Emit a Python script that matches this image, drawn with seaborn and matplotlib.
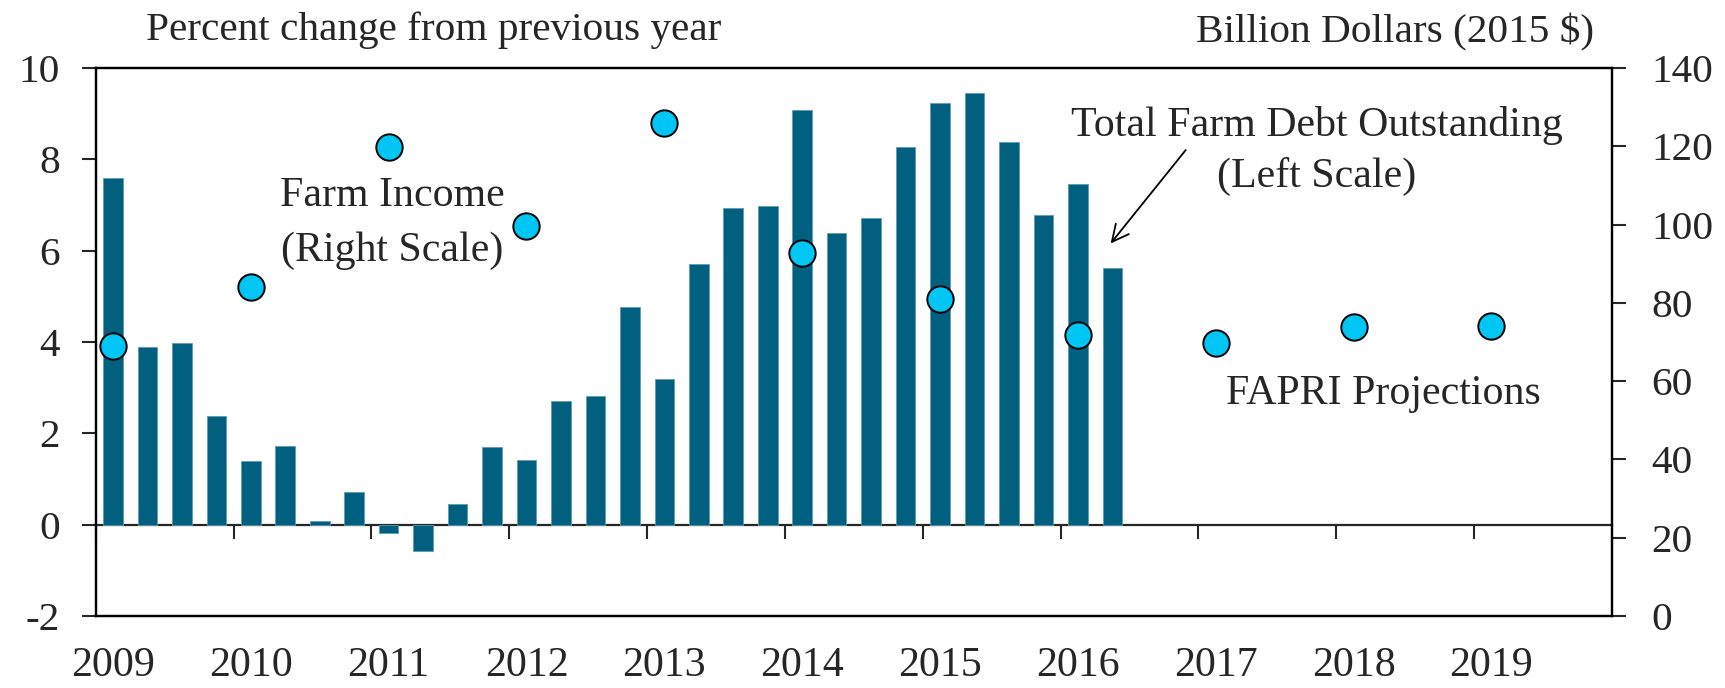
import numpy as np
import pandas as pd
import matplotlib
matplotlib.use("Agg")
import matplotlib.pyplot as plt
import seaborn as sns

# Total farm debt outstanding, % change from previous year (quarterly, left scale)
quarters = pd.period_range("2009Q1", "2016Q2", freq="Q")
debt_change = [7.58, 3.88, 3.98, 2.38, 1.39, 1.72, 0.08, 0.71,
               -0.19, -0.58, 0.46, 1.70, 1.42, 2.71, 2.81, 4.76,
               3.19, 5.71, 6.93, 6.97, 9.09, 6.39, 6.72, 8.28,
               9.23, 9.46, 8.38, 6.78, 7.47, 5.63]

# Farm income, billion 2015 dollars (annual, right scale; 2017-2019 FAPRI projections)
income_years = [2009, 2010, 2011, 2012, 2013, 2014, 2015, 2016, 2017, 2018, 2019]
farm_income = [69.0, 84.0, 119.8, 99.6, 125.9, 92.8, 80.9, 71.8, 69.8, 73.9, 74.1]

left_ticks = [-2, 0, 2, 4, 6, 8, 10]
right_ticks = [0, 20, 40, 60, 80, 100, 120, 140]

BAR_COLOR = "#015f7f"
DOT_COLOR = "#00c6f5"
FS = 29.7

sns.set_theme(style="ticks")
plt.rcParams["font.family"] = ["Liberation Serif", "DejaVu Serif"]
plt.rcParams["axes.unicode_minus"] = False

# quarter centres on a continuous year axis
q_pos = np.array([p.year + (p.quarter - 1) * 0.25 + 0.125 for p in quarters])
inc_pos = np.array(income_years) + 0.125

fig = plt.figure(figsize=(17.25, 6.88), dpi=100)
ax = fig.add_axes([0.0555, 0.1047, 0.879, 0.7965])

sns.barplot(x=q_pos, y=debt_change, native_scale=True, orient="x", width=0.57,
            color=BAR_COLOR, saturation=1, edgecolor="#5f9cb4", linewidth=0.6,
            ax=ax)

ax.set_xlim(2009, 2020)
ax.set_ylim(-2, 10)
ax.set_yticks(left_ticks)
ax.set_xticks(inc_pos, labels=[str(y) for y in income_years])
ax.tick_params(axis="x", length=0, pad=22, labelsize=FS + 0.5)
ax.tick_params(axis="y", length=10, width=1.5, pad=16, labelsize=FS, direction="out")
ax.set_xlabel("")
ax.set_ylabel("")
for s in ax.spines.values():
    s.set_visible(True)
    s.set_linewidth(1.6)
    s.set_color("black")

# zero line with year tick marks
zero_ax = ax.secondary_xaxis(2 / 12)
zero_ax.set_xticks(income_years)
zero_ax.tick_params(axis="x", length=10, width=1.5, direction="out",
                    labelbottom=False, labeltop=False)
zero_ax.spines["bottom"].set_linewidth(1.6)

# farm income dots on right scale
ax2 = ax.twinx()
sns.scatterplot(x=inc_pos, y=farm_income, s=360, color=DOT_COLOR,
                edgecolor="black", linewidth=1.4, zorder=5, ax=ax2)
ax2.set_ylim(0, 140)
ax2.set_yticks(right_ticks)
ax2.tick_params(axis="y", length=10, width=1.5, pad=18, labelsize=FS, direction="out")
ax2.set_ylabel("")
for s in ax2.spines.values():
    s.set_linewidth(1.6)
    s.set_color("black")

# annotations
ax.text(2011.15, 7.20, "Farm Income", ha="center", va="center", fontsize=FS + 0.5)
ax.text(2011.15, 6.00, "(Right Scale)", ha="center", va="center", fontsize=FS + 0.5)
ax.text(2017.86, 8.74, "Total Farm Debt Outstanding", ha="center", va="center",
        fontsize=FS + 0.5)
ax.text(2017.86, 7.62, "(Left Scale)", ha="center", va="center", fontsize=FS + 0.5)
ax.annotate("", xy=(2016.35, 6.11), xytext=(2016.92, 8.25),
            arrowprops=dict(arrowstyle="->", color="black", lw=1.3,
                            mutation_scale=30))
ax.text(2018.34, 2.87, "FAPRI Projections", ha="center", va="center",
        fontsize=FS + 0.5)

fig.text(0.0846, 0.956, "Percent change from previous year", ha="left",
         va="center", fontsize=FS)
fig.text(0.809, 0.953, "Billion Dollars (2015 $)", ha="center", va="center",
         fontsize=FS)

fig.savefig("out.png", dpi=100)
plt.close(fig)
